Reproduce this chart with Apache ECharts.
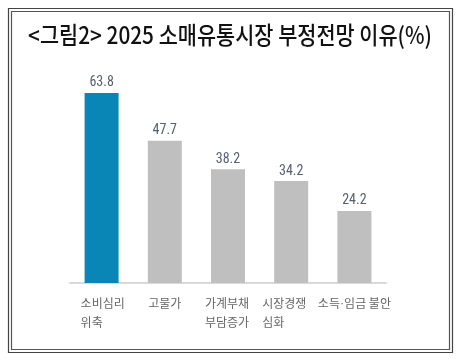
<!DOCTYPE html>
<html><head><meta charset="utf-8">
<script src="https://cdn.jsdelivr.net/npm/echarts@6/dist/echarts.min.js"></script>
<style>html,body{margin:0;padding:0;background:#fff}#c{width:460px;height:359px}</style>
</head><body><div id="c"></div>
<script>
const titleText = '<그림2> 2025 소매유통시장 부정전망 이유(%)';
const categories = ['소비심리\n위축', '고물가', '가계부채\n부담증가', '시장경쟁\n심화', '소득·임금 불안'];
const values = [63.8, 47.7, 38.2, 34.2, 24.2];
const highlightIndex = 0;

const chart = echarts.init(document.getElementById('c'), null, {renderer: 'canvas'});
const labelWidths = [42, 0, 46, 48, 0];
const labelPadRight = [0, 0, 0, 10, 0];
const rich = {d: {fontSize: 12.5, color: '#666', lineHeight: 19, fontFamily: 'Liberation Sans'}};
categories.forEach((c, i) => {
  rich['l' + i] = {width: labelWidths[i] || undefined, align: 'left', fontSize: 12, color: '#666', lineHeight: 19,
    fontFamily: 'Noto Sans CJK KR', padding: [0, labelPadRight[i], 0, 0]};
});
chart.setOption({
  animation: false,
  backgroundColor: '#fff',
  grid: {left: 70, width: 316, top: 74.4, bottom: 76},
  xAxis: {
    type: 'category', data: categories,
    axisLine: {lineStyle: {color: '#d9d9d9', width: 2}},
    axisTick: {show: false},
    axisLabel: {
      margin: 11, interval: 0,
      formatter: (v, i) => v.split('\n').map(s => s.split('·').map(p => '{l' + i + '|' + p + '}').join('{d|·}')).join('\n'),
      rich: rich
    }
  },
  yAxis: {type: 'value', min: 0, max: 70, show: false, splitLine: {show: false}},
  series: [{
    type: 'bar', barWidth: 34,
    data: values.map((v, i) => ({value: v, itemStyle: {color: i === highlightIndex ? '#0a86b6' : '#bfbfbf'}})),
    label: {show: true, position: 'top', distance: 3, color: '#556072', fontSize: 14,
      fontFamily: 'Liberation Sans Narrow, Roboto Condensed, Liberation Sans', formatter: p => p.value.toFixed(1)}
  }],
  graphic: [
    {type: 'rect', shape: {x: 8.5, y: 8.5, width: 444, height: 344}, style: {fill: null, stroke: '#444', lineWidth: 1.2}},
    {type: 'rect', shape: {x: 11.5, y: 11.5, width: 438, height: 338}, style: {fill: null, stroke: '#555', lineWidth: 1.2}},
    {type: 'text', x: 230, y: 35, scaleX: 0.885,
      style: {text: titleText, font: '500 23.5px "Noto Sans CJK KR"', fill: '#111', textAlign: 'center', textVerticalAlign: 'middle'}}
  ]
});
</script></body></html>
